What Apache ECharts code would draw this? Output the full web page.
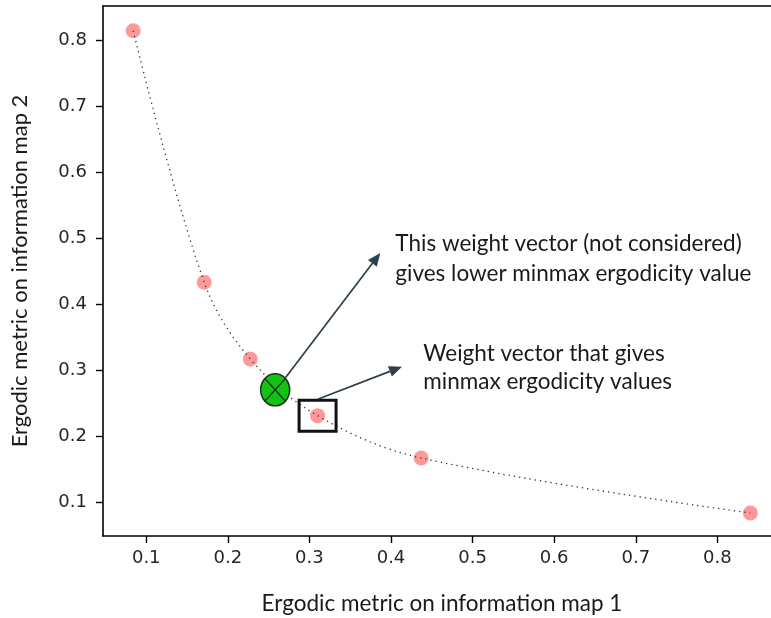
<!DOCTYPE html>
<html>
<head>
<meta charset="utf-8">
<script src="https://cdn.jsdelivr.net/npm/echarts@6/dist/echarts.min.js"></script>
<style>html,body{margin:0;padding:0;background:#fff}#c{width:771px;height:618px}</style>
</head>
<body>
<div id="c"></div>
<script>
// ---- data ----
const xTicks = [0.1, 0.2, 0.3, 0.4, 0.5, 0.6, 0.7, 0.8];
const yTicks = [0.1, 0.2, 0.3, 0.4, 0.5, 0.6, 0.7, 0.8];
const frontX = [0.084, 0.171, 0.2275, 0.310, 0.437, 0.8405];
const frontY = [0.814, 0.433, 0.3167, 0.2308, 0.1667, 0.0833];
const notConsideredPoint = [0.258, 0.270];
const chosenPoint = [0.310, 0.2308];
const arrowStarts = [[0.2704, 0.2879], [0.3109, 0.256]];
const arrowEnds = [[0.3869, 0.4773], [0.4135, 0.305]];
const noteTexts = [
  'This weight vector (not considered)\ngives lower minmax ergodicity value',
  'Weight vector that gives\nminmax ergodicity values'
];
const noteAnchors = [[0.4053, 0.4690], [0.4396, 0.3040]];
const xLabel = 'Ergodic metric on information map 1';
const yLabel = 'Ergodic metric on information map 2';

const chart = echarts.init(document.getElementById('c'));
const tickFont = {fontFamily: 'DejaVu Sans', fontSize: 18, color: '#262626'};
const noteFont = 'Lato';
const points = frontX.map((x, i) => [x, frontY[i]]);

chart.setOption({
  animation: false,
  backgroundColor: '#fff',
  grid: {left: 103, top: 6, width: 678, height: 530, outerBoundsMode: 'none', containLabel: false},
  xAxis: [{
    type: 'value', min: 0.047, max: 0.878,
    axisLine: {show: true, onZero: false, lineStyle: {color: '#000', width: 1.6}},
    axisTick: {show: true, length: 7, customValues: xTicks, lineStyle: {color: '#000', width: 1.4}},
    axisLabel: Object.assign({customValues: xTicks, margin: 13, formatter: v => v.toFixed(1)}, tickFont),
    splitLine: {show: false},
    name: xLabel, nameLocation: 'middle', nameGap: 56,
    nameTextStyle: {fontFamily: noteFont, fontSize: 22.5, color: '#1a1a1a'}
  }, {
    type: 'value', position: 'top', min: 0.047, max: 0.878,
    axisLine: {show: true, onZero: false, lineStyle: {color: '#000', width: 1.6}},
    axisTick: {show: false}, axisLabel: {show: false}, splitLine: {show: false}
  }],
  yAxis: {
    type: 'value', min: 0.0485, max: 0.8515,
    axisLine: {show: true, onZero: false, lineStyle: {color: '#000', width: 1.6}},
    axisTick: {show: true, length: 7, customValues: yTicks, lineStyle: {color: '#000', width: 1.4}},
    axisLabel: Object.assign({customValues: yTicks, margin: 16, formatter: v => v.toFixed(1)}, tickFont),
    splitLine: {show: false},
    name: yLabel, nameLocation: 'middle', nameGap: 72, nameRotate: 90,
    nameTextStyle: {fontFamily: noteFont, fontSize: 22, color: '#1a1a1a'}
  },
  series: [
    {
      type: 'scatter', data: points, symbol: 'circle', symbolSize: 15, z: 2,
      itemStyle: {color: 'rgba(255,40,40,0.6)'}
    },
    {
      type: 'line', data: points, smooth: 0.35, showSymbol: false, z: 3,
      lineStyle: {color: '#333', width: 1.3, type: [1.3, 4]}
    },
    {
      type: 'custom', z: 4,
      data: [notConsideredPoint],
      renderItem: (params, api) => {
        const p = api.coord([api.value(0), api.value(1)]);
        const rx = 14.5, ry = 16, k = Math.SQRT1_2;
        return {type: 'group', children: [
          {type: 'ellipse', shape: {cx: p[0], cy: p[1], rx: rx, ry: ry},
           style: {fill: '#13c313', stroke: '#1e3320', lineWidth: 1.6}},
          {type: 'line', shape: {x1: p[0] - rx * k, y1: p[1] - ry * k, x2: p[0] + rx * k, y2: p[1] + ry * k},
           style: {stroke: '#1e3320', lineWidth: 1.4}},
          {type: 'line', shape: {x1: p[0] + rx * k, y1: p[1] - ry * k, x2: p[0] - rx * k, y2: p[1] + ry * k},
           style: {stroke: '#1e3320', lineWidth: 1.4}}
        ]};
      }
    },
    {
      type: 'custom', z: 4,
      data: [chosenPoint],
      renderItem: (params, api) => {
        const p = api.coord([api.value(0), api.value(1)]);
        return {type: 'rect', shape: {x: p[0] - 18.5, y: p[1] - 15.5, width: 37, height: 31},
          style: {fill: 'none', stroke: '#111', lineWidth: 3}};
      }
    },
    {
      type: 'custom', z: 5,
      data: arrowStarts.map((s, i) => [s[0], s[1], arrowEnds[i][0], arrowEnds[i][1]]),
      encode: {x: [0, 2], y: [1, 3]},
      renderItem: (params, api) => {
        const a = api.coord([api.value(0), api.value(1)]);
        const b = api.coord([api.value(2), api.value(3)]);
        const dx = b[0] - a[0], dy = b[1] - a[1], L = Math.hypot(dx, dy);
        const ux = dx / L, uy = dy / L, hl = 13, hw = 5.5;
        const bx = b[0] - ux * hl, by = b[1] - uy * hl;
        return {type: 'group', children: [
          {type: 'line', shape: {x1: a[0], y1: a[1], x2: bx, y2: by}, style: {stroke: '#2b3f4c', lineWidth: 1.7}},
          {type: 'polygon', shape: {points: [[b[0], b[1]], [bx - uy * hw, by + ux * hw], [bx + uy * hw, by - ux * hw]]},
           style: {fill: '#2b3f4c'}}
        ]};
      }
    },
    {
      type: 'custom', z: 5,
      data: noteAnchors.map((a, i) => [a[0], a[1], i]),
      renderItem: (params, api) => {
        const i = api.value(2);
        const p = api.coord([api.value(0), api.value(1)]);
        return {type: 'text', x: p[0], y: p[1],
          style: {text: noteTexts[i], fill: '#1a1a1a', font: '22.5px ' + noteFont,
                  lineHeight: i === 0 ? 30 : 28, textAlign: 'left', textVerticalAlign: 'middle'}};
      }
    }
  ]
});
</script>
</body>
</html>
